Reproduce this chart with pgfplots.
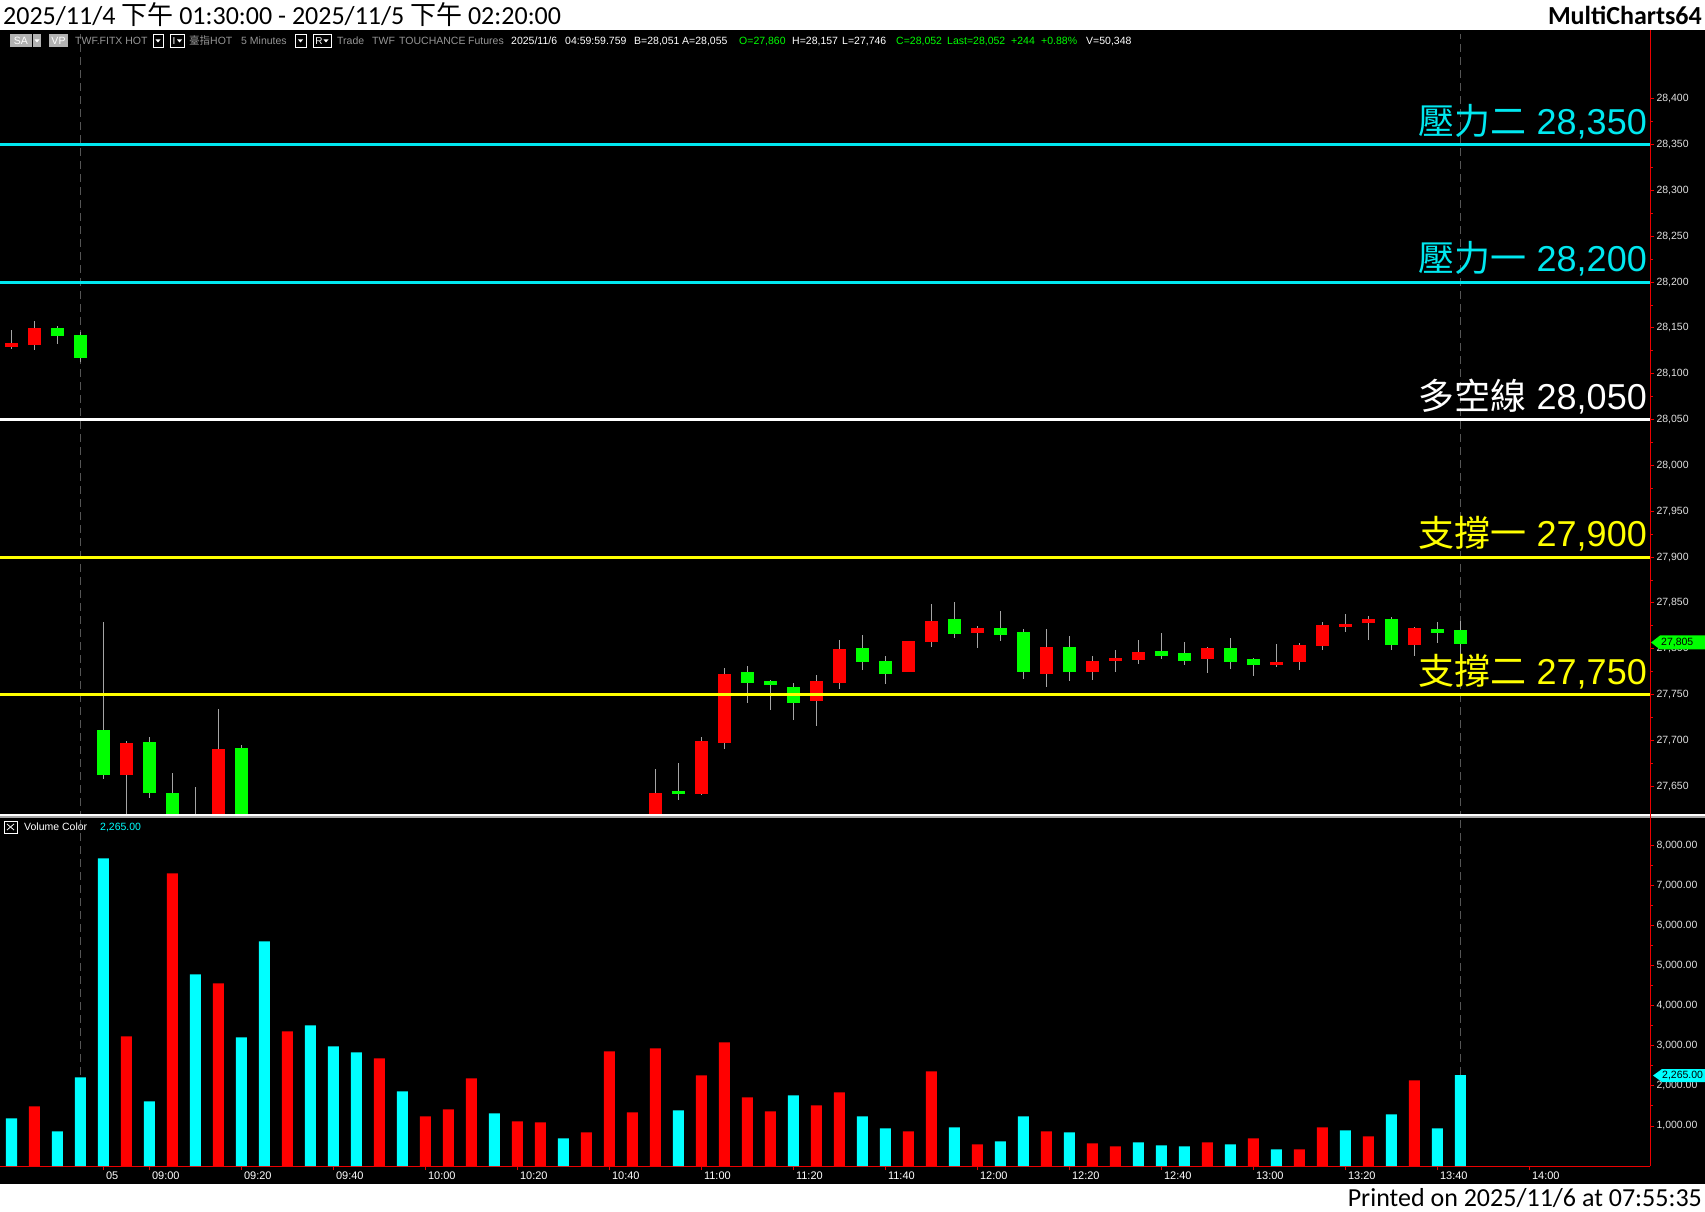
\documentclass[border=0pt]{standalone}
\usepackage{pgfplots}
\pgfplotsset{compat=1.18}
\usepackage{pgfplotstable}
\usepackage{fontspec}
\setmainfont{Liberation Sans}
\newfontfamily\cjk{Noto Sans CJK TC}
\newfontfamily\calib{Carlito}

\definecolor{upred}{RGB}{255,0,0}
\definecolor{dngreen}{RGB}{0,255,0}
\definecolor{vcyan}{RGB}{0,255,255}
\definecolor{lvcyan}{RGB}{0,232,240}
\definecolor{lvyellow}{RGB}{255,255,0}
\definecolor{wick}{RGB}{165,165,165}
\definecolor{axred}{RGB}{235,0,0}
\definecolor{lbl}{RGB}{225,225,225}
\definecolor{hdgray}{RGB}{150,150,150}
\definecolor{dashgray}{RGB}{85,85,85}

% candles: x = bar index (5-minute bars), o h l c
\pgfplotstableread{
x o h l c
0 28129 28148 28127 28133
1 28131 28157 28126 28150
5 27662 27699 27620 27697
9 27610 27734 27600 27691
28 27610 27669 27600 27643
30 27641 27704 27641 27699
31 27697 27779 27691 27772
35 27743 27771 27716 27765
36 27763 27810 27756 27800
39 27775 27808 27775 27808
40 27807 27849 27802 27830
42 27817 27825 27801 27823
45 27772 27822 27758 27802
47 27775 27792 27766 27787
48 27787 27799 27775 27790
49 27788 27810 27783 27796
52 27789 27802 27773 27801
55 27782 27805 27780 27786
56 27786 27806 27777 27804
57 27803 27829 27799 27826
58 27824 27838 27818 27827
59 27828 27836 27810 27832
61 27804 27824 27792 27823
}\upcandles
\pgfplotstableread{
x o h l c
2 28150 28152 28133 28141
3 28142 28145 28113 28117
4 27711 27829 27658 27662
6 27698 27704 27637 27643
7 27643 27665 27600 27610
8 27610 27649 27590 27600
10 27692 27695 27600 27610
29 27645 27675 27635 27641
32 27775 27781 27741 27763
33 27765 27766 27733 27760
34 27758 27763 27722 27741
37 27801 27815 27777 27785
38 27787 27792 27762 27772
41 27832 27851 27812 27816
43 27823 27841 27809 27815
44 27818 27822 27767 27775
46 27802 27814 27765 27775
50 27797 27817 27789 27792
51 27795 27807 27782 27787
53 27801 27812 27778 27786
54 27789 27790 27770 27782
60 27832 27835 27799 27804
62 27822 27829 27806 27817
63 27820 27830 27794 27805
}\downcandles

\newcommand\hd[3]{\node[anchor=base west, inner sep=0pt, text=#1, font=\fontsize{10.5}{12}\selectfont] at (#2,1166) {#3};}
\newcommand\tri[2]{\fill[white] (#1-2.5,#2+1.5) -- (#1+2.5,#2+1.5) -- (#1,#2-1.5) -- cycle;}

\begin{document}
\begin{tikzpicture}[x=1pt,y=1pt]
\useasboundingbox (0,0) rectangle (1705,1211);
\fill[white] (0,0) rectangle (1705,1211);
\fill[black] (0,27) rectangle (1705,1181);

% ---------------- price panel ----------------
\begin{axis}[
  at={(0pt,396pt)}, anchor=south west,
  width=1650pt, height=780pt, scale only axis,
  xmin=-0.5, xmax=71.24, ymin=27618.6, ymax=28469.5,
  axis x line=none, axis y line*=right,
  axis line style={draw=axred, line width=1pt},
  ytick={27650,27700,27750,27800,27850,27900,27950,28000,28050,28100,28150,28200,28250,28300,28350,28400},
  minor y tick num=1,
  tick align=outside,
  major tick length=4pt, minor tick length=2.5pt,
  tick style={draw=axred, line width=0.8pt},
  scaled y ticks=false,
  yticklabel style={font=\fontsize{10.5}{12}\selectfont, text=lbl, anchor=west, xshift=-1pt,
    /pgf/number format/fixed, /pgf/number format/precision=0,
    /pgf/number format/1000 sep={,}, /pgf/number format/assume math mode=true},
  candle/.style={draw=none, mark=none, forget plot, error bars/y dir=both, error bars/y explicit, error bars/error mark=none},
]
\addplot[dashgray, line width=1pt, dash pattern=on 8pt off 5pt] coordinates {(3,27600) (3,28480)};
\addplot[dashgray, line width=1pt, dash pattern=on 8pt off 5pt] coordinates {(63,27600) (63,28480)};
% wicks
\addplot[candle, error bars/error bar style={draw=wick, line width=1.2pt}]
  table[x=x, y expr={(\thisrow{h}+\thisrow{l})/2}, y error expr={(\thisrow{h}-\thisrow{l})/2}] {\upcandles};
\addplot[candle, error bars/error bar style={draw=wick, line width=1.2pt}]
  table[x=x, y expr={(\thisrow{h}+\thisrow{l})/2}, y error expr={(\thisrow{h}-\thisrow{l})/2}] {\downcandles};
% bodies
\addplot[candle, error bars/error bar style={draw=upred, line width=13pt}]
  table[x=x, y expr={(\thisrow{o}+\thisrow{c})/2}, y error expr={(\thisrow{c}-\thisrow{o})/2}] {\upcandles};
\addplot[candle, error bars/error bar style={draw=dngreen, line width=13pt}]
  table[x=x, y expr={(\thisrow{o}+\thisrow{c})/2}, y error expr={(\thisrow{o}-\thisrow{c})/2}] {\downcandles};
% levels
\addplot[lvcyan, line width=3pt] coordinates {(-0.5,28350) (71.24,28350)};
\addplot[lvcyan, line width=3pt] coordinates {(-0.5,28200) (71.24,28200)};
\addplot[white, line width=3pt] coordinates {(-0.5,28050) (71.24,28050)};
\addplot[lvyellow, line width=3pt] coordinates {(-0.5,27900) (71.24,27900)};
\addplot[lvyellow, line width=3pt] coordinates {(-0.5,27750) (71.24,27750)};
\end{axis}

% ---------------- volume panel ----------------
\begin{axis}[
  at={(0pt,45pt)}, anchor=south west,
  width=1650pt, height=348pt, scale only axis,
  xmin=-0.5, xmax=71.24, ymin=0, ymax=8678,
  axis x line*=bottom, axis y line*=right,
  axis line style={draw=axred, line width=1pt},
  xtick={4,6,10,14,18,22,26,30,34,38,42,46,50,54,58,62,66},
  xticklabels={05,09:00,09:20,09:40,10:00,10:20,10:40,11:00,11:20,11:40,12:00,12:20,12:40,13:00,13:20,13:40,14:00},
  ytick={1000,2000,3000,4000,5000,6000,7000,8000},
  minor y tick num=1,
  tick align=outside,
  major tick length=4pt, minor tick length=2.5pt,
  tick style={draw=axred, line width=0.8pt},
  scaled y ticks=false,
  xticklabel style={font=\fontsize{11}{12}\selectfont, text=white, anchor=north west, xshift=-1pt, yshift=2pt},
  yticklabel style={font=\fontsize{10.5}{12}\selectfont, text=lbl, anchor=west, xshift=-1pt,
    /pgf/number format/fixed, /pgf/number format/fixed zerofill, /pgf/number format/precision=2,
    /pgf/number format/1000 sep={,}, /pgf/number format/assume math mode=true},
]
\addplot[dashgray, line width=1pt, dash pattern=on 8pt off 5pt] coordinates {(3,0) (3,8700)};
\addplot[dashgray, line width=1pt, dash pattern=on 8pt off 5pt] coordinates {(63,0) (63,8700)};
\addplot[ybar, bar width=11pt, bar shift=0pt, fill=upred, draw=none] coordinates {
(1,1487) (5,3233) (7,7296) (9,4554) (12,3357) (16,2684) (18,1238) (19,1413) (20,2186)
(22,1114) (23,1089) (25,839) (26,2859) (27,1338) (28,2933) (30,2260) (31,3083) (32,1712)
(33,1363) (35,1512) (36,1837) (39,864) (40,2360) (42,540) (45,864) (47,565) (48,490)
(52,590) (54,690) (56,416) (57,964) (59,740) (61,2136)};
\addplot[ybar, bar width=11pt, bar shift=0pt, fill=vcyan, draw=none] coordinates {
(0,1188) (2,864) (3,2210) (4,7670) (6,1612) (8,4778) (10,3208) (11,5601) (13,3507)
(14,2983) (15,2834) (17,1861) (21,1313) (24,690) (29,1388) (34,1762) (37,1238) (38,939)
(41,964) (43,615) (44,1238) (46,839) (49,590) (50,515) (51,490) (53,540) (55,416)
(58,889) (60,1288) (62,939) (63,2265)};
\end{axis}

% separator between panels and right red axis line
\fill[white] (0,394.5) rectangle (1705,397);
\fill[gray!70] (0,393) rectangle (1705,394.5);
\draw[axred, line width=1pt] (1650,45) -- (1650,1181);

% level labels
\node[anchor=base east, inner sep=0pt, text=lvcyan, font=\fontsize{36}{40}\selectfont] at (1647,1076.5) {{\cjk 壓力二} 28,350};
\node[anchor=base east, inner sep=0pt, text=lvcyan, font=\fontsize{36}{40}\selectfont] at (1647,939) {{\cjk 壓力一} 28,200};
\node[anchor=base east, inner sep=0pt, text=white, font=\fontsize{36}{40}\selectfont] at (1647,801.5) {{\cjk 多空線} 28,050};
\node[anchor=base east, inner sep=0pt, text=lvyellow, font=\fontsize{36}{40}\selectfont] at (1647,664) {{\cjk 支撐一} 27,900};
\node[anchor=base east, inner sep=0pt, text=lvyellow, font=\fontsize{36}{40}\selectfont] at (1647,526.5) {{\cjk 支撐二} 27,750};

% last value tags
\fill[dngreen] (1651,568.5) -- (1660,575.5) -- (1705,575.5) -- (1705,561.5) -- (1660,561.5) -- cycle;
\node[anchor=west, inner sep=0pt, text=black, font=\fontsize{10.5}{12}\selectfont] at (1661,568.5) {27,805};
\fill[vcyan] (1653,135.5) -- (1662,142) -- (1705,142) -- (1705,129) -- (1662,129) -- cycle;
\node[anchor=west, inner sep=0pt, text=black, font=\fontsize{10.5}{12}\selectfont] at (1662,135.5) {2,265.00};

% volume panel header
\draw[white, line width=0.8pt] (4,378) rectangle (17,390);
\draw[white, line width=0.8pt] (7,381) -- (14,387) (7,387) -- (14,381);
\node[anchor=base west, inner sep=0pt, text=white, font=\fontsize{10.5}{12}\selectfont] at (24,380) {Volume Color};
\node[anchor=base west, inner sep=0pt, text=vcyan, font=\fontsize{10.5}{12}\selectfont] at (100,380) {2,265.00};

% instrument header row
\fill[gray!60] (10,1163.5) rectangle (32,1177);
\fill[gray!60] (33,1163.5) rectangle (41,1177);
\node[anchor=base, inner sep=0pt, text=white, font=\fontsize{10.5}{12}\selectfont] at (21,1166) {SA};
\tri{37}{1170}
\fill[gray!60] (49,1163.5) rectangle (68,1177);
\node[anchor=base, inner sep=0pt, text=white, font=\fontsize{10.5}{12}\selectfont] at (58.5,1166) {VP};
\hd{hdgray}{75}{TWF.FITX HOT}
\draw[white, line width=0.7pt] (153,1164) rectangle (163,1176.5); \tri{158}{1170}
\draw[white, line width=0.7pt] (170,1164) rectangle (184,1176.5);
\node[anchor=base, inner sep=0pt, text=white, font=\fontsize{10}{12}\selectfont] at (174,1166) {I}; \tri{179.5}{1170}
\hd{hdgray}{189}{{\cjk 臺指}HOT}
\hd{hdgray}{241}{5 Minutes}
\draw[white, line width=0.7pt] (295,1164) rectangle (306,1176.5); \tri{300.5}{1170}
\draw[white, line width=0.7pt] (313,1164) rectangle (331,1176.5);
\node[anchor=base, inner sep=0pt, text=white, font=\fontsize{10}{12}\selectfont] at (319,1166) {R}; \tri{326}{1170}
\hd{hdgray}{337}{Trade}
\hd{hdgray}{372}{TWF}
\hd{hdgray}{399}{TOUCHANCE}
\hd{hdgray}{468}{Futures}
\hd{white}{511}{2025/11/6}
\hd{white}{565}{04:59:59.759}
\hd{white}{634}{B=28,051}
\hd{white}{682}{A=28,055}
\hd{dngreen}{739}{O=27,860}
\hd{white}{792}{H=28,157}
\hd{white}{842}{L=27,746}
\hd{dngreen}{896}{C=28,052}
\hd{dngreen}{947}{Last=28,052}
\hd{dngreen}{1011}{+244}
\hd{dngreen}{1041}{+0.88\%}
\hd{white}{1086}{V=50,348}

% title and footer
\node[anchor=base west, inner sep=0pt, text=black, font=\calib\fontsize{26}{28}\selectfont] at (3,1186) {2025/11/4 {\cjk 下午} 01:30:00 - 2025/11/5 {\cjk 下午} 02:20:00};
\node[anchor=base east, inner sep=0pt, text=black, font=\calib\bfseries\fontsize{26}{28}\selectfont] at (1702,1186) {MultiCharts64};
\node[anchor=base east, inner sep=0pt, text=black, font=\calib\fontsize{26}{28}\selectfont] at (1702,4.5) {Printed on 2025/11/6 at 07:55:35};
\end{tikzpicture}
\end{document}
